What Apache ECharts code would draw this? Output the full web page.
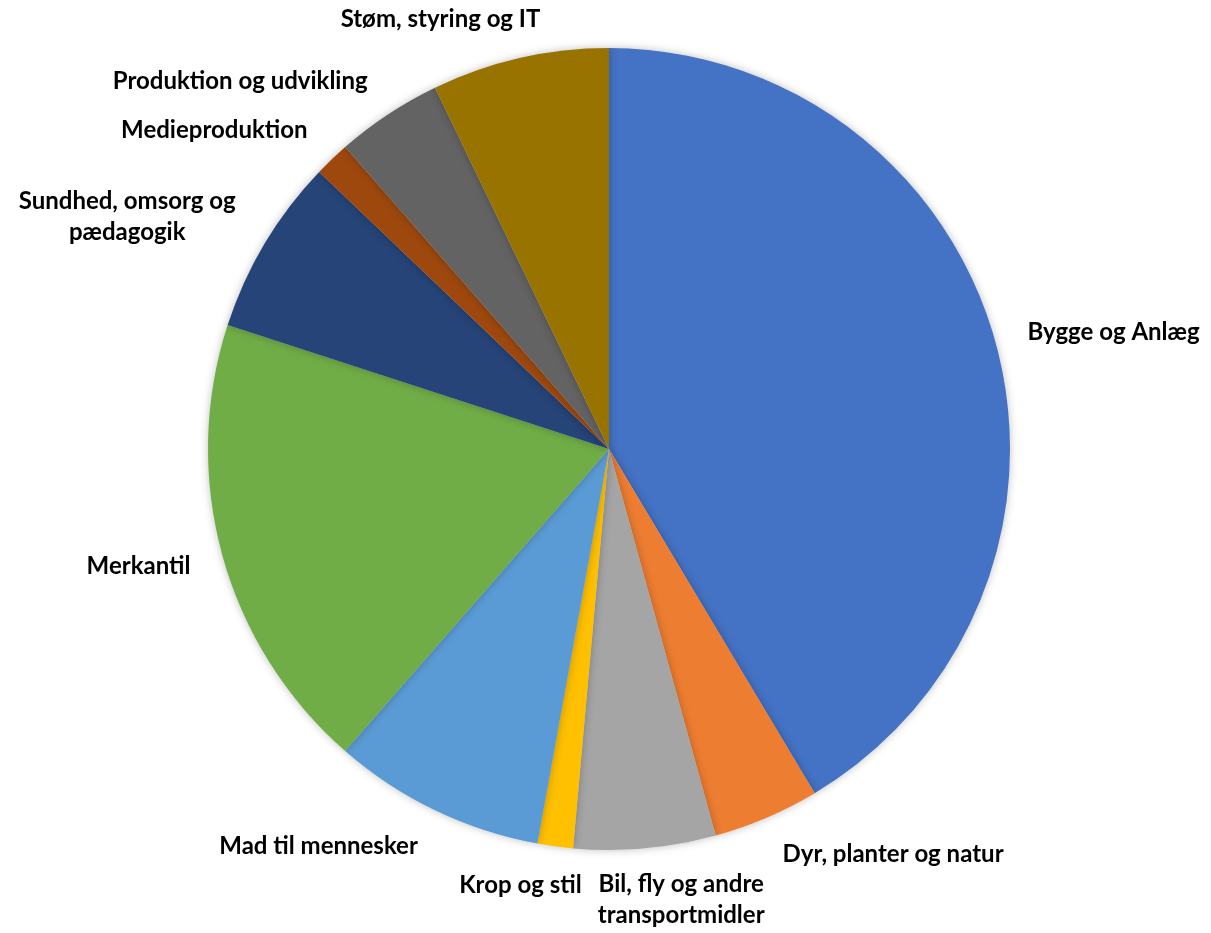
<!DOCTYPE html>
<html>
<head>
<meta charset="utf-8">
<script src="https://cdn.jsdelivr.net/npm/echarts@6/dist/echarts.min.js"></script>
<style>
html,body{margin:0;padding:0;background:#fff;}
#chart{width:1211px;height:933px;}
</style>
</head>
<body>
<div id="chart"></div>
<script>
const categories = [
  'Bygge og Anlæg',
  'Dyr, planter og natur',
  'Bil, fly og andre\ntransportmidler',
  'Krop og stil',
  'Mad til mennesker',
  'Merkantil',
  'Sundhed, omsorg og\npædagogik',
  'Medieproduktion',
  'Produktion og udvikling',
  'Støm, styring og IT'
];
const values = [29, 3, 4, 1, 6, 13, 5, 1, 3, 5];
const colors = ['#4472C4', '#ED7D31', '#A5A5A5', '#FFC000', '#5B9BD5', '#70AD47', '#264478', '#9E480E', '#636363', '#997300'];

// mid-angle direction of each slice (clockwise from 12 o'clock), derived from the data
const total = values.reduce((a, b) => a + b, 0);
const dirs = [];
let acc = 0;
values.forEach(v => {
  const mid = (acc + v / 2) / total * 2 * Math.PI;
  dirs.push({ x: Math.sin(mid), y: -Math.cos(mid) });
  acc += v;
});

const chart = echarts.init(document.getElementById('chart'));
chart.setOption({
  animation: false,
  series: [{
    type: 'pie',
    center: [609, 449],
    radius: 401,
    startAngle: 90,
    clockwise: true,
    avoidLabelOverlap: false,
    data: categories.map((c, i) => ({ name: c, value: values[i], itemStyle: { color: colors[i] } })),
    label: {
      show: true,
      position: 'outside',
      formatter: '{b}',
      color: '#000',
      fontFamily: 'Lato',
      fontWeight: 'bold',
      fontSize: 24,
      lineHeight: 31
    },
    labelLine: { show: false, length: 28, length2: 0 },
    labelLayout: function (p) {
      const r = p.labelRect;
      const d = dirs[p.dataIndex];
      const f = Math.max(0, Math.min(0.5, 8 * (Math.abs(d.y) - 0.955)));
      const dx = -Math.sign(d.x) * f * r.width;
      const dy = 0.75 * d.y * r.height / 2;
      return { x: r.x + r.width / 2 + dx, dy: dy, align: 'center', hideOverlap: false, moveOverlap: false };
    },
    itemStyle: { borderWidth: 0, shadowBlur: 8, shadowColor: 'rgba(0,0,0,0.25)' }
  }]
});
</script>
</body>
</html>
